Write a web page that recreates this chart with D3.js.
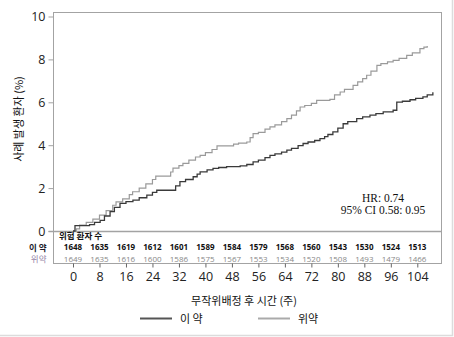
<!DOCTYPE html>
<html>
<head>
<meta charset="utf-8">
<script src="https://cdn.jsdelivr.net/npm/d3@7"></script>
<style>
  html, body { margin: 0; padding: 0; background: #fff; }
  svg { display: block; }
</style>
</head>
<body>
<svg id="chart" width="454" height="337"></svg>
<script>
// Cumulative incidence (%) by week since randomisation
const drugWeeks = [0, 0.6, 4.2, 5, 6.5, 8.2, 9.5, 11.2, 12.5, 14.2, 16, 18.1, 20, 22.3, 24, 25.3, 29.8, 31, 32.3, 34, 36.3, 37.5, 38.4, 40.5, 42.3, 44, 46.4, 50.5, 52.5, 54.4, 56, 58, 59.5, 61, 63, 64.6, 66, 68, 69.5, 71, 73, 74.6, 76, 77, 78.5, 80, 81.6, 83, 85.7, 87.5, 89.7, 91.5, 93.7, 96.7, 97.8, 99.5, 101.8, 103.5, 105.7, 107, 108.7];
const drugValues = [0, 0.25, 0.25, 0.3, 0.4, 0.5, 0.7, 0.9, 1.1, 1.29, 1.37, 1.44, 1.55, 1.67, 1.8, 1.9, 1.9, 2.1, 2.3, 2.4, 2.53, 2.65, 2.76, 2.85, 2.92, 2.96, 3.0, 3.04, 3.1, 3.22, 3.3, 3.42, 3.53, 3.6, 3.68, 3.77, 3.85, 3.98, 4.08, 4.15, 4.22, 4.31, 4.4, 4.5, 4.62, 4.8, 5.0, 5.1, 5.24, 5.32, 5.4, 5.47, 5.55, 5.63, 6.01, 6.05, 6.12, 6.18, 6.25, 6.35, 6.47];

const placeboWeeks = [0, 1, 2, 4, 6, 8, 10, 12, 13, 15, 17, 18, 20, 22, 24, 25, 28.7, 29.5, 30.2, 32, 33.2, 35, 37, 38.4, 40, 42, 43.5, 47.4, 48.5, 50, 52.5, 53.5, 54.4, 56, 58, 59.5, 61, 63, 64.6, 66, 67.5, 68.6, 70, 72, 73.6, 77.6, 79, 80.7, 82, 84.6, 86, 87.5, 88.7, 90, 91.8, 93, 95, 96.7, 98.5, 100.8, 102.5, 104.8, 106, 107];
const placeboValues = [0, 0.1, 0.28, 0.4, 0.55, 0.74, 0.95, 1.2, 1.36, 1.5, 1.7, 1.83, 2.0, 2.2, 2.4, 2.56, 2.56, 2.75, 2.93, 3.05, 3.15, 3.3, 3.45, 3.53, 3.65, 3.8, 3.97, 3.97, 4.05, 4.1, 4.15, 4.35, 4.54, 4.6, 4.75, 4.85, 4.95, 5.1, 5.24, 5.4, 5.6, 5.78, 5.85, 5.95, 6.09, 6.14, 6.35, 6.48, 6.6, 6.79, 6.95, 7.1, 7.26, 7.45, 7.72, 7.8, 7.88, 7.95, 8.05, 8.19, 8.3, 8.5, 8.57, 8.62];

// Number at risk table
const riskWeeks = [0, 8, 16, 24, 32, 40, 48, 56, 64, 72, 80, 88, 96, 104];
const drugAtRisk = [1648, 1635, 1619, 1612, 1601, 1589, 1584, 1579, 1568, 1560, 1543, 1530, 1524, 1513];
const placeboAtRisk = [1649, 1635, 1616, 1600, 1586, 1575, 1567, 1553, 1534, 1520, 1508, 1493, 1479, 1466];

const yTicks = [0, 2, 4, 6, 8, 10];
const seriesNames = ["이 약", "위약"];
const hrLines = ["HR: 0.74", "95% CI 0.58: 0.95"];

const svg = d3.select("#chart");
const uiFont = "'Open Sans', 'Noto Sans', sans-serif";
const krFont = "'Noto Sans CJK KR', 'Noto Sans', sans-serif";
const frameColor = "#a3a3a3";
const drugColor = "#3a3a3a";
const placeboColor = "#9a9a9a";

const frame = { left: 53.5, right: 441.5, top: 12.5, bottom: 263.5 };

const x = d3.scaleLinear().domain([0, 104]).range([73, 417.3]);
const y = d3.scaleLinear().domain([0, 10]).range([231, 16.5]);

// outer border of the figure
svg.append("path")
  .attr("d", "M452.5,0 V335.5 H0")
  .attr("fill", "none").attr("stroke", "#dcdcdc").attr("stroke-width", 1.5);

// plot frame incl. risk table
svg.append("rect")
  .attr("x", frame.left).attr("y", frame.top)
  .attr("width", frame.right - frame.left).attr("height", frame.bottom - frame.top)
  .attr("fill", "none").attr("stroke", frameColor).attr("stroke-width", 1);

// baseline separating curves from risk table
svg.append("line")
  .attr("x1", frame.left - 5).attr("x2", frame.right)
  .attr("y1", Math.round(y(0)) + 0.5).attr("y2", Math.round(y(0)) + 0.5)
  .attr("stroke", frameColor).attr("stroke-width", 1.3);

// y axis
const yAxis = svg.append("g")
  .attr("transform", `translate(${frame.left},0)`)
  .call(d3.axisLeft(y).tickValues(yTicks).tickSize(5).tickPadding(3));
yAxis.select(".domain").remove();
yAxis.selectAll(".tick line").attr("stroke", frameColor);
yAxis.selectAll(".tick text")
  .attr("font-family", uiFont).attr("font-size", 12.5).attr("fill", "#222");

// x axis under the frame
const xAxis = svg.append("g")
  .attr("transform", `translate(0,${frame.bottom})`)
  .call(d3.axisBottom(x).tickValues(riskWeeks).tickSize(4).tickPadding(5));
xAxis.select(".domain").remove();
xAxis.selectAll(".tick line").attr("stroke", "#666");
xAxis.selectAll(".tick text")
  .attr("font-family", uiFont).attr("font-size", 12.5).attr("fill", "#222");

// curves
const line = d3.line().curve(d3.curveStepAfter)
  .x(d => x(d[0])).y(d => y(d[1]));

const placeboPts = placeboWeeks.map((w, i) => [w, placeboValues[i]]);
const drugPts = drugWeeks.map((w, i) => [w, drugValues[i]]);

svg.append("path").datum(placeboPts)
  .attr("d", line).attr("fill", "none")
  .attr("stroke", placeboColor).attr("stroke-width", 1.2);
svg.append("path").datum(drugPts)
  .attr("d", line).attr("fill", "none")
  .attr("stroke", drugColor).attr("stroke-width", 1.3);

// hazard ratio annotation
svg.selectAll("text.hr").data(hrLines).enter().append("text")
  .attr("class", "hr")
  .attr("x", 383).attr("y", (d, i) => 202 + i * 12)
  .attr("text-anchor", "middle")
  .attr("font-family", "'Liberation Serif', 'DejaVu Serif', serif")
  .attr("font-size", 11.5).attr("fill", "#111")
  .text(d => d);

// risk table
svg.append("text")
  .attr("x", 59).attr("y", 238.5)
  .attr("font-family", krFont).attr("font-size", 8.5).attr("font-weight", "bold")
  .attr("fill", "#111").text("위험 환자 수");

svg.append("text")
  .attr("x", 46.5).attr("y", 250.5).attr("text-anchor", "end")
  .attr("font-family", krFont).attr("font-size", 8.5).attr("font-weight", "bold")
  .attr("fill", "#1a1a2a").text(seriesNames[0]);
svg.append("text")
  .attr("x", 46.5).attr("y", 262).attr("text-anchor", "end")
  .attr("font-family", krFont).attr("font-size", 8.5)
  .attr("fill", "#9585a8").text(seriesNames[1]);

svg.selectAll("text.rdrug").data(riskWeeks).enter().append("text")
  .attr("class", "rdrug")
  .attr("x", d => x(d)).attr("y", 250)
  .attr("text-anchor", "middle")
  .attr("font-family", uiFont).attr("font-size", 8).attr("font-weight", "bold")
  .attr("fill", "#111")
  .text((d, i) => drugAtRisk[i]);

svg.selectAll("text.rplac").data(riskWeeks).enter().append("text")
  .attr("class", "rplac")
  .attr("x", d => x(d)).attr("y", 261.5)
  .attr("text-anchor", "middle")
  .attr("font-family", uiFont).attr("font-size", 8)
  .attr("fill", "#888")
  .text((d, i) => placeboAtRisk[i]);

// axis titles
svg.append("text")
  .attr("x", 244).attr("y", 304.5).attr("text-anchor", "middle")
  .attr("font-family", krFont).attr("font-size", 11).attr("fill", "#111")
  .text("무작위배정 후 시간 (주)");

svg.append("text")
  .attr("transform", "translate(23,119) rotate(-90)")
  .attr("text-anchor", "middle")
  .attr("font-family", krFont).attr("font-size", 11).attr("fill", "#111")
  .text("사례 발생 환자 (%)");

// legend
const legend = [
  { name: seriesNames[0], color: "#555", x0: 140, tx: 180 },
  { name: seriesNames[1], color: "#aaa", x0: 258, tx: 298 }
];
const lg = svg.selectAll("g.lg").data(legend).enter().append("g").attr("class", "lg");
lg.append("line")
  .attr("x1", d => d.x0).attr("x2", d => d.x0 + 32)
  .attr("y1", 318.5).attr("y2", 318.5)
  .attr("stroke", d => d.color).attr("stroke-width", 2);
lg.append("text")
  .attr("x", d => d.tx).attr("y", 323)
  .attr("font-family", krFont).attr("font-size", 11).attr("fill", "#111")
  .text(d => d.name);
</script>
</body>
</html>
